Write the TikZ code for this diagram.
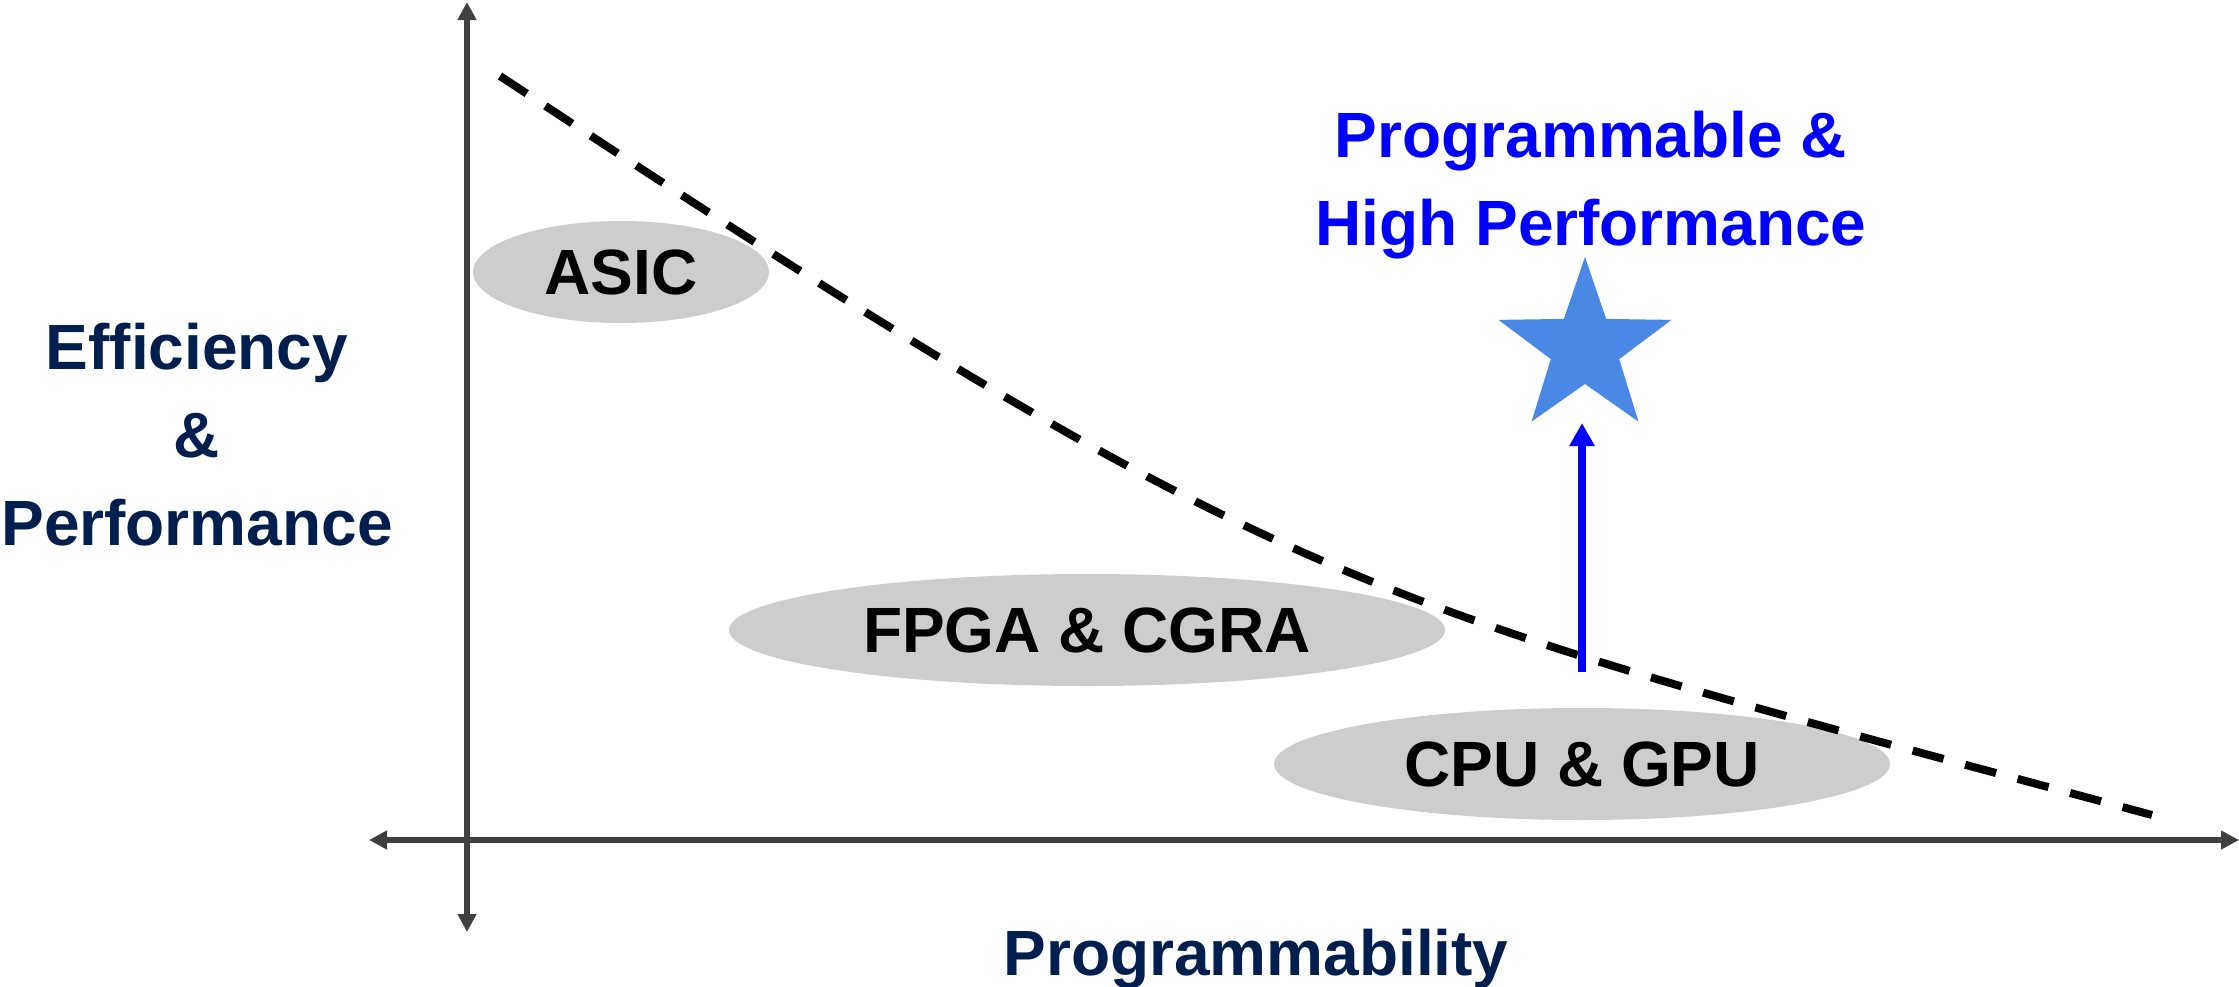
\documentclass[tikz,border=0pt]{standalone}
\usepackage{fontspec}
\setmainfont{Liberation Sans}[Ligatures=NoCommon]
\usetikzlibrary{arrows.meta,shapes.geometric}
\definecolor{axisgray}{RGB}{64,64,64}
\definecolor{navy}{RGB}{0,30,78}
\definecolor{ovalgray}{RGB}{205,205,205}
\definecolor{starblue}{RGB}{74,136,229}
\begin{document}
\begin{tikzpicture}[x=1pt,y=-1pt,
  axis/.style={draw=axisgray,line width=6pt,
    {Triangle[width=18pt,length=18pt]}-{Triangle[width=18pt,length=18pt]}},
  oval/.style={ellipse,fill=ovalgray,inner sep=0pt,
    font=\fontsize{64}{77}\selectfont\bfseries},
  frontier/.style={draw=black,line width=8pt,dash pattern=on 32pt off 22.36pt},
  lift/.style={draw=blue,line width=7.5pt,-{Triangle[width=24pt,length=23pt]}},
  navylabel/.style={text=navy,font=\fontsize{64}{88}\selectfont\bfseries,
    align=center,inner sep=0pt},
  goallabel/.style={text=blue,font=\fontsize{64}{88}\selectfont\bfseries,
    align=center,inner sep=0pt}]
\useasboundingbox (0,0) rectangle (2239,986);

% axes
\coordinate (ytop) at (467,2);
\coordinate (ybot) at (467,932);
\coordinate (xleft) at (369,840);
\coordinate (xright) at (2239,840);
\draw[axis] (ybot) -- (ytop);
\draw[axis] (xleft) -- (xright);

% architecture classes
\node[oval,minimum width=296pt,minimum height=102pt] (asic) at (621,272) {ASIC};
\node[oval,minimum width=716pt,minimum height=112pt] (fpga) at (1087,630) {FPGA \& CGRA};
\node[oval,minimum width=616pt,minimum height=112pt] (cpu) at (1582,764) {CPU \& GPU};

% trade-off frontier
\coordinate (f0) at (500,76);
\coordinate (f1) at (1300,604);
\coordinate (f2) at (1352,599);
\coordinate (f3) at (2152,815);
\draw[frontier] (f0) .. controls (f1) and (f2) .. (f3);

% target
\node[star,star points=5,star point ratio=2.53,minimum size=182pt,
  inner sep=0pt,fill=starblue,draw=none] (goal) at (1585,348) {};
\coordinate (liftbase) at (1582,672);
\coordinate (lifttip) at (1582,423);
\draw[lift] (liftbase) -- (lifttip);

% labels (anchored at the baseline of their last line)
\node[goallabel,anchor=base] (goaltext) at (1591,245) {Programmable \&\\High Performance};
\node[navylabel,anchor=base] (ylabel) at (197,545) {Efficiency\\\&\\Performance};
\node[navylabel,anchor=base] (xlabel) at (1256,975) {Programmability};
\end{tikzpicture}
\end{document}
